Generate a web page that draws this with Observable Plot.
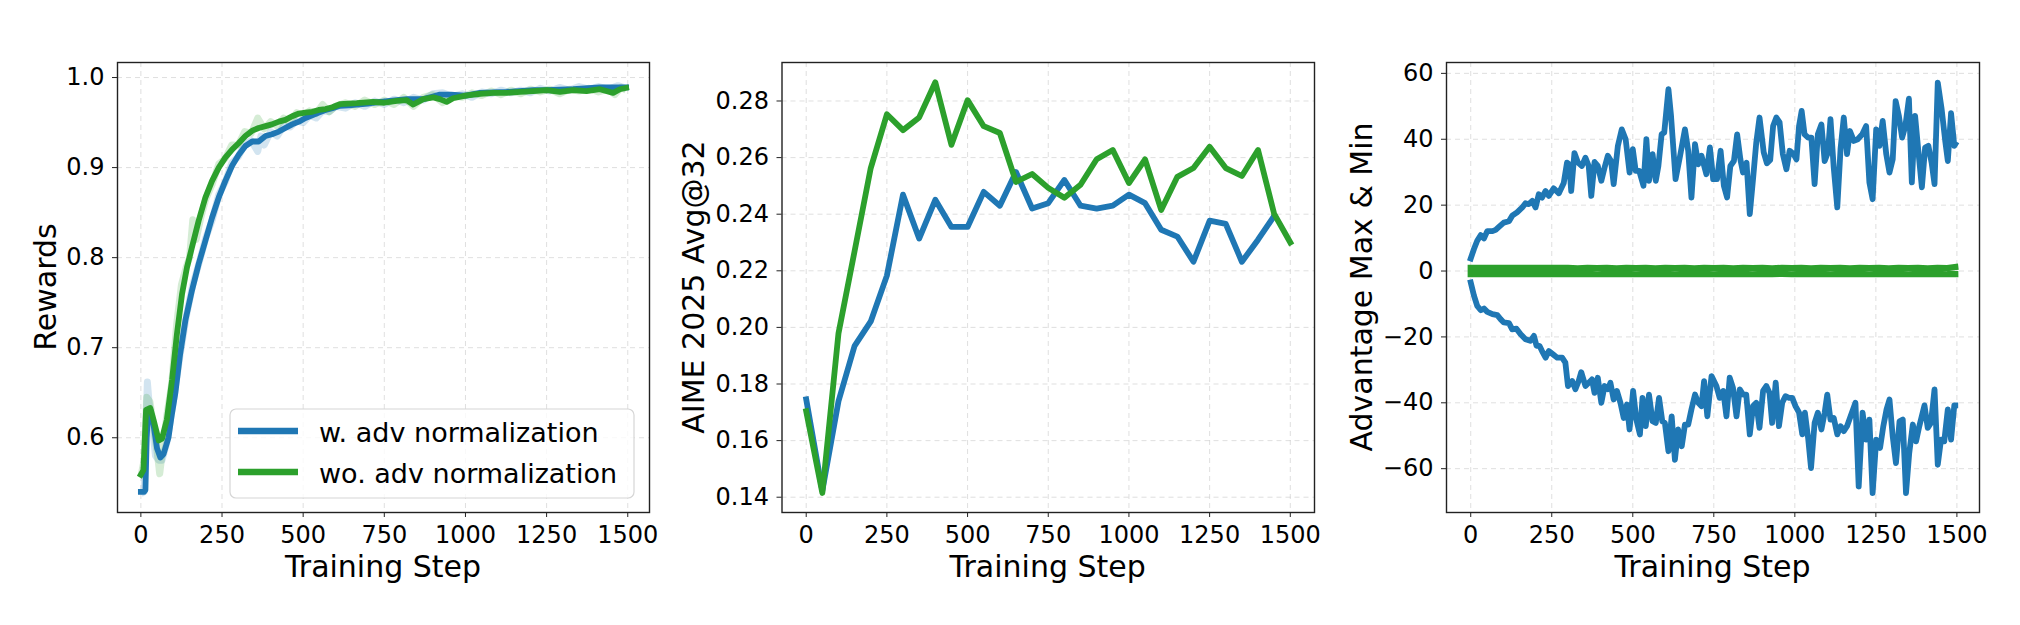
<!DOCTYPE html>
<html><head><meta charset="utf-8">
<script src="https://cdn.jsdelivr.net/npm/d3@7"></script>
<script src="https://cdn.jsdelivr.net/npm/@observablehq/plot@0.6"></script>
<style>
body{margin:0;background:#fff;}
#wrap{position:relative;width:2020px;height:625px;font-family:"DejaVu Sans",sans-serif;}
.panel{position:absolute;top:0;}
</style>
</head><body><div id="wrap"></div>
<script>
// ---------- shared ----------
const xTicks = [0, 250, 500, 750, 1000, 1250, 1500];
const BLUE = "#1f77b4", GREEN = "#2ca02c";
const seriesNames = ["w. adv normalization", "wo. adv normalization"];

// ---------- panel 1: Rewards ----------
const rewTicks = [0.6, 0.7, 0.8, 0.9, 1.0];
const rewBlueSteps = [0,10,14,18,22,30,40,50,60,70,85,95,106,121,137,157,178,199,219,240,260,281,301,322,343,363,384,404,425,445,466,487,507,528,548,569,590,613,640,665,700,716,767,819,870,900,921,955,1000,1045,1127,1209,1250,1332,1414,1495];
const rewBlueVals = [0.540,0.540,0.542,0.600,0.628,0.630,0.612,0.588,0.578,0.582,0.600,0.625,0.649,0.693,0.730,0.763,0.793,0.819,0.844,0.867,0.885,0.902,0.914,0.924,0.929,0.929,0.935,0.937,0.940,0.944,0.948,0.951,0.955,0.958,0.961,0.964,0.966,0.9686,0.969,0.970,0.971,0.972,0.974,0.976,0.976,0.979,0.981,0.981,0.980,0.983,0.984,0.986,0.986,0.987,0.989,0.989];
const rewGreenSteps = [0,8,16,29,39,55,65,80,96,111,127,142,157,178,199,219,240,260,281,301,322,343,363,384,404,425,445,466,487,507,528,548,569,590,613,665,716,750,788,819,839,870,901,921,942,962,1000,1045,1086,1127,1168,1209,1250,1291,1332,1373,1414,1455,1476,1495];
const rewGreenVals = [0.559,0.564,0.631,0.633,0.620,0.597,0.599,0.620,0.664,0.715,0.760,0.789,0.811,0.841,0.867,0.885,0.900,0.911,0.920,0.927,0.935,0.941,0.944,0.946,0.948,0.951,0.953,0.957,0.960,0.961,0.962,0.964,0.965,0.967,0.9704,0.9715,0.973,0.972,0.974,0.975,0.970,0.976,0.978,0.976,0.973,0.977,0.980,0.982,0.983,0.983,0.984,0.985,0.986,0.984,0.986,0.985,0.987,0.983,0.987,0.9885];
const rewBlueRawSteps = [0,10,15,20,25,35,45,55,65,80,100,120,140,160,180,200,220,240,260,280,300,320,340,360,370,380,400,420,440,460,480,500,520,540,560,580,600,630,660,690,720,750,780,810,840,870,900,930,960,990,1020,1050,1080,1110,1140,1170,1200,1230,1260,1290,1320,1350,1380,1410,1440,1470,1495];
const rewBlueRawVals = [0.538,0.540,0.600,0.662,0.640,0.615,0.580,0.575,0.575,0.595,0.640,0.690,0.735,0.770,0.795,0.822,0.842,0.870,0.884,0.905,0.912,0.926,0.930,0.918,0.935,0.925,0.940,0.935,0.946,0.945,0.952,0.950,0.958,0.955,0.963,0.962,0.968,0.966,0.972,0.968,0.974,0.970,0.976,0.972,0.978,0.975,0.982,0.983,0.979,0.982,0.978,0.984,0.982,0.986,0.983,0.986,0.983,0.988,0.985,0.989,0.986,0.990,0.987,0.990,0.987,0.991,0.988];
const rewGreenRawSteps = [0,10,18,28,38,50,58,68,80,95,110,125,140,150,160,170,185,200,220,240,260,280,300,320,340,360,380,400,420,440,460,480,500,520,540,560,580,600,630,660,690,720,750,780,810,840,870,900,930,960,990,1020,1050,1080,1110,1140,1170,1200,1230,1260,1290,1320,1350,1380,1410,1440,1460,1480,1495];
const rewGreenRawVals = [0.557,0.575,0.645,0.640,0.615,0.585,0.560,0.590,0.625,0.660,0.725,0.770,0.790,0.800,0.842,0.820,0.845,0.865,0.882,0.904,0.910,0.925,0.925,0.940,0.938,0.955,0.943,0.951,0.946,0.955,0.950,0.961,0.958,0.963,0.960,0.970,0.962,0.968,0.972,0.968,0.975,0.970,0.975,0.970,0.978,0.968,0.978,0.981,0.972,0.980,0.978,0.983,0.980,0.985,0.981,0.986,0.982,0.987,0.984,0.987,0.982,0.987,0.985,0.988,0.984,0.987,0.981,0.989,0.986];

// ---------- panel 2: AIME 2025 Avg@32 ----------
const aimeTicks = [0.14, 0.16, 0.18, 0.20, 0.22, 0.24, 0.26, 0.28];
const aimeSteps = [0,50,100,150,200,250,300,350,400,450,500,550,600,650,700,750,800,850,900,950,1000,1050,1100,1150,1200,1250,1300,1350,1400,1450,1500];
const aimeBlue = [0.1746,0.1423,0.1739,0.1935,0.2021,0.2183,0.2469,0.2314,0.2451,0.2355,0.2355,0.2479,0.2430,0.2549,0.2420,0.2439,0.2521,0.2430,0.2420,0.2430,0.2469,0.2439,0.2345,0.2321,0.2232,0.2377,0.2366,0.2232,0.2310,0.2394];
const aimeGreen = [0.1704,0.1415,0.1979,0.2270,0.2563,0.2753,0.2697,0.2742,0.2866,0.2645,0.2803,0.2711,0.2687,0.2514,0.2542,0.2493,0.2458,0.2504,0.2594,0.2627,0.2510,0.2594,0.2415,0.2532,0.2563,0.2638,0.2563,0.2535,0.2627,0.2401,0.2300];

// ---------- panel 3: Advantage Max & Min ----------
const advTicks = [-60, -40, -20, 0, 20, 40, 60];
const advMaxSteps = [0,10,20,31,41,51,67,77,87,102,118,128,143,159,169,179,190,200,210,220,231,241,256,272,287,297,304,310,320,331,343,354,364,372,382,392,403,413,423,433,441,454,466,478,490,500,509,520,533,542,550,561,571,579,589,597,610,618,632,646,661,671,681,692,702,712,727,738,748,760,771,781,791,801,812,822,832,840,851,861,871,881,891,904,914,924,933,943,953,963,974,984,996,1005,1013,1021,1030,1041,1051,1061,1071,1082,1092,1102,1110,1120,1131,1141,1151,1161,1170,1182,1194,1208,1220,1230,1240,1251,1261,1271,1282,1292,1302,1311,1321,1331,1341,1352,1361,1371,1381,1392,1402,1412,1422,1431,1441,1453,1464,1472,1482,1492,1495];
const advMaxVals = [3.8,6.7,9.2,10.9,9.9,12.1,12.1,12.5,13.4,14.7,15.1,16.8,17.8,19.3,20.6,20.3,21.3,19.3,23.3,22.3,24.3,22.8,25.1,23.6,26.7,32.9,32.4,24.3,35.8,32.9,31.9,34.4,31.9,22.8,33.1,31.9,27.4,31.4,35.0,33.4,26.4,38.0,43.0,40.0,29.9,37.0,30.4,30.4,25.9,40.0,27.4,35.5,27.4,31.9,41.5,42.0,55.2,47.1,27.9,35.0,43.0,36.5,22.3,38.5,32.4,35.0,29.4,37.5,27.9,27.9,36.5,25.9,22.3,31.9,33.4,41.5,33.9,29.9,32.9,17.3,27.9,39.0,46.6,36.0,32.7,33.7,44.0,46.6,45.1,35.5,30.9,36.5,35.5,33.9,44.0,48.6,41.5,40.5,40.5,26.4,41.5,44.5,33.4,36.0,46.1,31.4,19.3,37.0,46.6,35.5,42.5,39.5,40.0,41.5,44.0,26.9,21.8,43.0,38.0,45.6,35.5,29.9,33.9,51.6,47.1,40.5,44.0,52.3,26.9,47.1,36.5,25.4,37.5,38.0,32.9,26.4,57.2,49.1,39.5,33.4,47.9,38.0,38.5];
const advMinSteps = [0,10,20,31,41,51,67,82,92,102,118,128,141,154,169,184,195,203,212,220,231,241,254,267,282,292,300,313,323,333,341,354,364,374,382,392,403,413,423,431,441,451,462,472,482,490,501,511,522,530,540,550,561,571,581,591,599,610,620,630,640,651,661,671,681,692,702,712,720,730,743,758,768,779,789,799,809,820,830,840,850,861,871,881,891,902,912,922,930,941,951,961,971,982,992,1002,1013,1023,1031,1041,1050,1061,1071,1082,1092,1100,1110,1120,1131,1141,1151,1161,1172,1187,1197,1209,1220,1230,1240,1251,1263,1273,1283,1292,1302,1312,1323,1333,1343,1353,1364,1374,1384,1400,1410,1420,1431,1441,1451,1461,1472,1482,1492,1495];
const advMinVals = [-3.45,-7.5,-10.6,-11.9,-11.4,-12.4,-13.1,-13.4,-14.6,-15.6,-15.8,-17.7,-17.5,-19.2,-20.7,-21.2,-19.7,-22.7,-22.7,-24.3,-26.3,-24.3,-25.3,-26.3,-26.3,-27.8,-34.9,-33.4,-35.9,-33.4,-30.7,-34.9,-33.9,-32.9,-37.0,-32.4,-40.0,-34.9,-35.9,-33.9,-39.0,-36.4,-40.0,-44.6,-40.5,-48.1,-36.4,-45.1,-49.6,-38.5,-47.1,-37.5,-45.6,-46.1,-38.5,-45.6,-46.1,-54.7,-44.1,-57.3,-48.1,-53.2,-46.6,-46.6,-42.0,-37.5,-40.0,-41.0,-33.4,-44.1,-31.9,-34.9,-38.5,-36.4,-44.1,-32.4,-35.4,-44.1,-35.9,-37.5,-37.5,-49.6,-41.0,-40.0,-47.6,-36.4,-34.9,-37.0,-46.1,-33.9,-47.1,-40.0,-38.0,-38.5,-38.5,-41.0,-43.0,-49.6,-43.0,-50.7,-59.8,-46.1,-43.0,-48.1,-43.0,-37.5,-45.1,-44.6,-49.6,-47.1,-48.6,-47.1,-44.1,-40.0,-65.4,-43.0,-51.2,-45.1,-67.4,-51.2,-53.7,-47.1,-42.0,-39.0,-50.2,-58.3,-45.6,-45.1,-67.4,-55.2,-46.6,-51.7,-47.1,-40.8,-47.6,-46.1,-35.9,-58.8,-51.2,-51.7,-42.0,-51.2,-40.8,-40.8];
const advGreenSteps = [0,50,100,150,200,250,300,330,360,390,420,450,480,510,540,570,600,630,660,690,720,750,780,810,840,870,900,930,960,990,1020,1050,1080,1110,1140,1170,1200,1230,1260,1290,1320,1350,1380,1410,1440,1470,1495];
const advGreenMax = [0.95,0.95,0.95,0.95,0.95,0.95,0.95,0.85,0.97,0.86,0.96,0.85,0.97,0.86,0.96,0.85,0.97,0.86,0.96,0.85,0.97,0.86,0.96,0.85,0.97,0.86,0.96,0.85,0.97,0.86,0.96,0.85,0.97,0.86,0.96,0.85,0.97,0.86,0.96,0.85,0.97,0.86,0.96,0.85,0.97,0.90,1.20];
const advGreenMin = [-0.95,-0.95,-0.95,-0.95,-0.95,-0.95,-0.95,-0.96,-0.86,-0.97,-0.85,-0.96,-0.86,-0.97,-0.85,-0.96,-0.86,-0.97,-0.85,-0.96,-0.86,-0.97,-0.85,-0.96,-0.86,-0.97,-0.85,-0.96,-0.86,-0.97,-0.85,-0.96,-0.86,-0.97,-0.85,-0.96,-0.86,-0.97,-0.85,-0.96,-0.86,-0.97,-0.85,-0.96,-0.86,-0.97,-0.95];

// ---------- helpers ----------
const zip = (xs, ys) => xs.map((s, i) => ({step: s, v: ys[i]}));
const fmtMinus = d => d < 0 ? "\u2212" + Math.abs(d) : String(d);
const LW = 5.8;

function makePanel({left, width, ml, mr, xDomain, yDomain, yTicks, yFmt, marks}) {
  const p = Plot.plot({
    width, height: 625,
    marginLeft: ml, marginRight: mr, marginTop: 62, marginBottom: 113,
    style: {fontFamily: "DejaVu Sans", fontSize: "24px", color: "#000", background: "transparent", overflow: "visible"},
    x: {domain: xDomain},
    y: {domain: yDomain},
    marks: [
      Plot.gridX(xTicks, {stroke: "#b0b0b0", strokeOpacity: 0.4, strokeDasharray: "5,4", strokeWidth: 1}),
      Plot.gridY(yTicks, {stroke: "#b0b0b0", strokeOpacity: 0.4, strokeDasharray: "5,4", strokeWidth: 1}),
      ...marks,
      Plot.frame({stroke: "#222", strokeWidth: 1.4}),
      Plot.axisX(xTicks, {tickSize: 5, tickPadding: 8, fontSize: 24, label: null, tickFormat: d => String(d), stroke: "#222"}),
      Plot.axisY(yTicks, {tickSize: 5, tickPadding: 8, fontSize: 24, label: null, tickFormat: yFmt, stroke: "#222"})
    ]
  });
  p.classList.add("panel");
  p.style.left = left + "px";
  document.getElementById("wrap").appendChild(p);
}

const lineOpts = (c, extra = {}) => ({x: "step", y: "v", stroke: c, strokeWidth: LW, strokeLinejoin: "round", strokeLinecap: "square", ...extra});

makePanel({
  left: 0, width: 680, ml: 117, mr: 31,
  xDomain: [-72, 1567], yDomain: [0.517, 1.0167],
  yTicks: rewTicks, yFmt: d3.format(".1f"),
  marks: [
    Plot.line(zip(rewBlueRawSteps, rewBlueRawVals), lineOpts(BLUE, {strokeOpacity: 0.2, strokeWidth: 7, strokeLinecap: "butt"})),
    Plot.line(zip(rewGreenRawSteps, rewGreenRawVals), lineOpts(GREEN, {strokeOpacity: 0.2, strokeWidth: 7, strokeLinecap: "butt"})),
    Plot.line(zip(rewBlueSteps, rewBlueVals), lineOpts(BLUE)),
    Plot.line(zip(rewGreenSteps, rewGreenVals), lineOpts(GREEN))
  ]
});

makePanel({
  left: 680, width: 660, ml: 101.5, mr: 26,
  xDomain: [-75, 1575], yDomain: [0.1346, 0.2936],
  yTicks: aimeTicks, yFmt: d3.format(".2f"),
  marks: [
    Plot.line(zip(aimeSteps.slice(0, aimeBlue.length), aimeBlue), lineOpts(BLUE)),
    Plot.line(zip(aimeSteps, aimeGreen), lineOpts(GREEN))
  ]
});

makePanel({
  left: 1340, width: 680, ml: 106, mr: 41,
  xDomain: [-74.75, 1569.75], yDomain: [-73.3, 63.3],
  yTicks: advTicks, yFmt: fmtMinus,
  marks: [
    Plot.line(zip(advMaxSteps, advMaxVals), lineOpts(BLUE)),
    Plot.line(zip(advMinSteps, advMinVals), lineOpts(BLUE)),
    Plot.line(zip(advGreenSteps, advGreenMax), lineOpts(GREEN, {strokeWidth: 6.2})),
    Plot.line(zip(advGreenSteps, advGreenMin), lineOpts(GREEN, {strokeWidth: 6.2}))
  ]
});

// ---------- axis titles & legend overlay ----------
const ov = d3.select("#wrap").append("svg")
  .attr("width", 2020).attr("height", 625)
  .style("position", "absolute").style("left", "0px").style("top", "0px")
  .style("pointer-events", "none")
  .attr("font-family", "DejaVu Sans");

const xTitles = [{cx: 383, t: "Training Step"}, {cx: 1047.7, t: "Training Step"}, {cx: 1712.5, t: "Training Step"}];
ov.selectAll("text.xt").data(xTitles).join("text")
  .attr("class", "xt").attr("x", d => d.cx).attr("y", 577)
  .attr("text-anchor", "middle").attr("font-size", 30).attr("fill", "#000").text(d => d.t);

const yTitles = [{bx: 56, t: "Rewards"}, {bx: 704, t: "AIME 2025 Avg@32"}, {bx: 1372, t: "Advantage Max & Min"}];
ov.selectAll("text.yt").data(yTitles).join("text")
  .attr("class", "yt").attr("transform", d => `translate(${d.bx},287) rotate(-90)`)
  .attr("text-anchor", "middle").attr("font-size", 30).attr("fill", "#000").text(d => d.t);

const lg = ov.append("g");
lg.append("rect").attr("x", 230).attr("y", 409).attr("width", 404).attr("height", 89)
  .attr("rx", 6).attr("fill", "#fff").attr("fill-opacity", 0.8).attr("stroke", "#d6d6d6").attr("stroke-width", 1.2);
const lgItems = [{c: BLUE, t: seriesNames[0], y: 431}, {c: GREEN, t: seriesNames[1], y: 472}];
lgItems.forEach(d => {
  lg.append("line").attr("x1", 238).attr("x2", 298).attr("y1", d.y).attr("y2", d.y)
    .attr("stroke", d.c).attr("stroke-width", 6.5);
  lg.append("text").attr("x", 319).attr("y", d.y + 10.5).attr("font-size", 27).attr("fill", "#000").text(d.t);
});
</script>
</body></html>
